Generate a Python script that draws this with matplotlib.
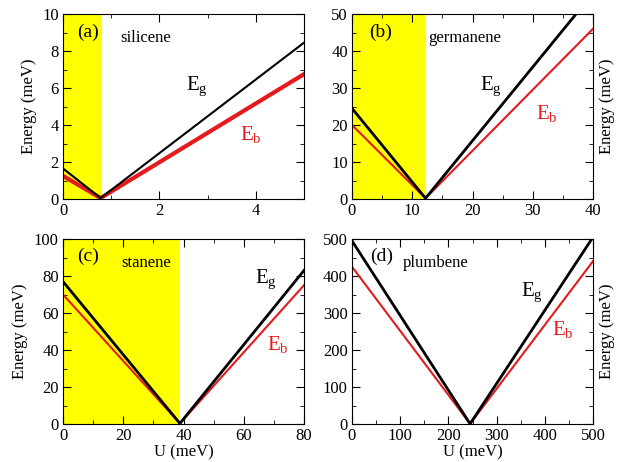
import matplotlib
matplotlib.use("Agg")
import matplotlib.pyplot as plt
from matplotlib.ticker import MultipleLocator

plt.rcParams['font.family'] = ['Liberation Serif', 'DejaVu Serif']
plt.rcParams['mathtext.fontset'] = 'stix'

# U (meV) and energies (meV) for each material: start, gap closing, end
names = ['silicene', 'germanene', 'stanene', 'plumbene']
tags = ['(a)', '(b)', '(c)', '(d)']
u_pts = [[0, 0.78, 5], [0, 12.2, 40], [0, 38.8, 80], [0, 245, 500]]
eg_pts = [[1.65, 0.05, 8.45], [24.5, 0.2, 55.6], [77, 0.3, 83], [495, 0.5, 505]]
eb_pts = [[1.25, 0.05, 6.75], [20, 0.2, 46], [70, 0.3, 75], [425, 0.5, 440]]
shade_end = [0.8, 12.2, 39, None]

xlims = [5, 40, 80, 500]
ylims = [10, 50, 100, 500]
xmaj = [2, 10, 20, 100]
xmin = [1, 5, 10, 50]
ymaj = [2, 10, 20, 100]
ymin = [1, 5, 10, 50]
red_lw = [3, 1.5, 1.5, 1.5]
black_lw = [1.5, 2, 2, 2]

tag_pos = [(0.06, 0.90), (0.07, 0.90), (0.058, 0.905), (0.075, 0.905)]
name_pos = [(0.237, 0.87), (0.318, 0.87), (0.24, 0.87), (0.21, 0.87)]
eg_pos = [(0.51, 0.61), (0.53, 0.61), (0.795, 0.78), (0.70, 0.71)]
eb_pos = [(0.735, 0.35), (0.765, 0.46), (0.845, 0.43), (0.83, 0.51)]

fig = plt.figure(figsize=(6.28, 4.62), dpi=100)
boxes = [(63, 14), (352, 14), (63, 239), (352, 239)]
W, H = 628, 462

for i in range(4):
    x0, y0 = boxes[i]
    ax = fig.add_axes([x0 / W, 1 - (y0 + 185) / H, 241 / W, 185 / H])
    if shade_end[i] is not None:
        ax.axvspan(0, shade_end[i], color='#ffff00', lw=0, zorder=0)
    ax.plot(u_pts[i], eg_pts[i], color='black', lw=black_lw[i], zorder=3)
    ax.plot(u_pts[i], eb_pts[i], color='#e41a1c', lw=red_lw[i], zorder=2)
    ax.set_xlim(0, xlims[i])
    ax.set_ylim(0, ylims[i])
    ax.xaxis.set_major_locator(MultipleLocator(xmaj[i]))
    ax.xaxis.set_minor_locator(MultipleLocator(xmin[i]))
    ax.yaxis.set_major_locator(MultipleLocator(ymaj[i]))
    ax.yaxis.set_minor_locator(MultipleLocator(ymin[i]))
    ax.tick_params(which='both', direction='in', top=True, right=True,
                   labelsize=12, pad=3)
    ax.tick_params(which='major', length=6)
    ax.tick_params(which='minor', length=3)
    ax.set_ylabel('Energy (meV)', fontsize=12)
    if i in (1, 3):
        ax.yaxis.set_label_position('right')
    if i >= 2:
        ax.set_xlabel('U (meV)', fontsize=12, labelpad=0)

    ax.text(*tag_pos[i], tags[i], transform=ax.transAxes, fontsize=14,
            va='center', ha='left')
    ax.text(*name_pos[i], names[i], transform=ax.transAxes, fontsize=12,
            va='center', ha='left')
    ax.text(*eg_pos[i], r'$\mathregular{E_g}$', transform=ax.transAxes,
            fontsize=15, va='center', ha='left', color='black')
    ax.text(*eb_pos[i], r'$\mathregular{E_b}$', transform=ax.transAxes,
            fontsize=15, va='center', ha='left', color='#e41a1c')

fig.savefig('out.png', dpi=100)
